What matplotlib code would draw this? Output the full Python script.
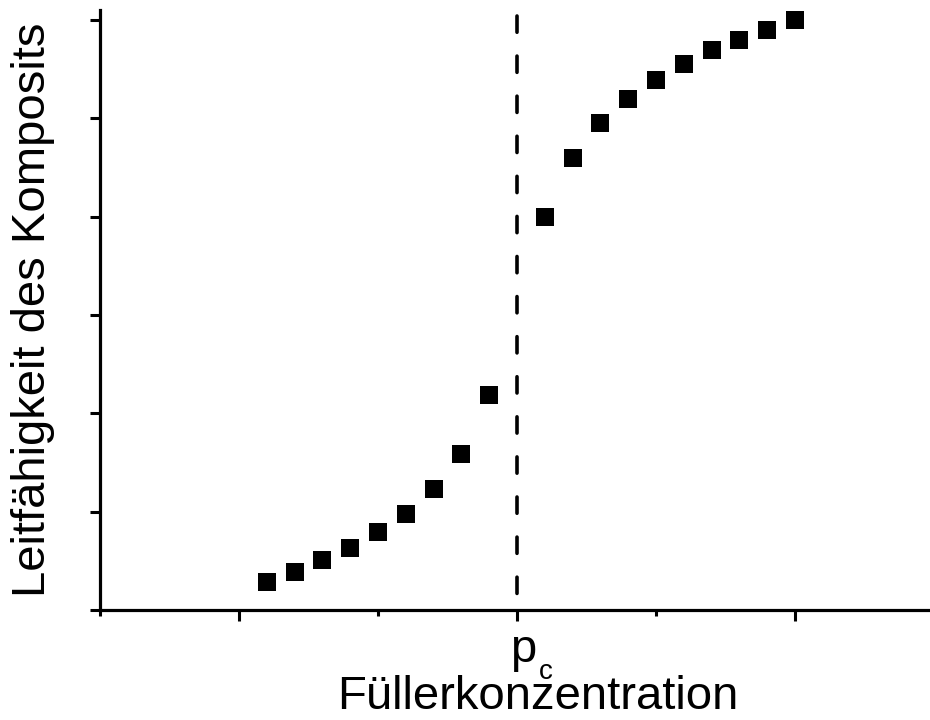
import matplotlib
matplotlib.use("Agg")
import matplotlib.pyplot as plt
from matplotlib.ticker import FixedLocator

plt.rcParams['font.family'] = ['Liberation Sans', 'DejaVu Sans']

# Daten
konz_unten = [1.2, 1.4, 1.6, 1.8, 2.0, 2.2, 2.4, 2.6, 2.8]
leit_unten = [0.28, 0.39, 0.51, 0.63, 0.79, 0.98, 1.23, 1.59, 2.19]
konz_oben = [3.2, 3.4, 3.6, 3.8, 4.0, 4.2, 4.4, 4.6, 4.8, 5.0]
leit_oben = [4.00, 4.60, 4.95, 5.20, 5.39, 5.55, 5.69, 5.80, 5.90, 6.00]
p_c = 3.0
x_major = [1, 3, 5]
x_minor = [0, 2, 4, 6]
y_ticks = [0, 1, 2, 3, 4, 5, 6]

fig = plt.figure(figsize=(9.3, 7.2), dpi=100)
ax = fig.add_axes([100/930, 110/720, 834/930, 600/720])

ax.plot(konz_unten + konz_oben, leit_unten + leit_oben, 's', color='black',
        markersize=13, markeredgewidth=0, clip_on=False)

# gestrichelte Linie bei p_c, von oben nach unten gezeichnet
ax.plot([p_c, p_c], [6.04, 0], color='black', lw=2.6, dashes=(4.5, 6.6),
        dash_capstyle='round')

ax.set_xlim(0, 6)
ax.set_ylim(0, 6.1)

for s in ['top', 'right']:
    ax.spines[s].set_visible(False)
for s in ['left', 'bottom']:
    ax.spines[s].set_linewidth(2.3)

ax.set_xticks(x_major, labels=['', '', ''])
ax.xaxis.set_minor_locator(FixedLocator(x_minor))
ax.set_yticks(y_ticks, labels=[''] * len(y_ticks))
ax.tick_params(axis='x', which='major', length=8, width=2.2)
ax.tick_params(axis='x', which='minor', length=4.5, width=2.2)
ax.tick_params(axis='y', which='major', length=7, width=2.2)

# p_c Beschriftung
ax.annotate('p', xy=(p_c, 0), xycoords=('data', 'axes fraction'),
            xytext=(-5, -37.4), textcoords='offset points',
            ha='left', va='baseline', fontsize=34, annotation_clip=False)
ax.annotate('c', xy=(p_c, 0), xycoords=('data', 'axes fraction'),
            xytext=(15.8, -50.0), textcoords='offset points',
            ha='left', va='baseline', fontsize=20, annotation_clip=False)

ax.set_xlabel('Füllerkonzentration', fontsize=34, va='baseline')
ax.xaxis.set_label_coords(0.525, -0.165)
ax.set_ylabel('Leitfähigkeit des Komposits', fontsize=34, labelpad=22)

fig.savefig('out.png', dpi=100)
